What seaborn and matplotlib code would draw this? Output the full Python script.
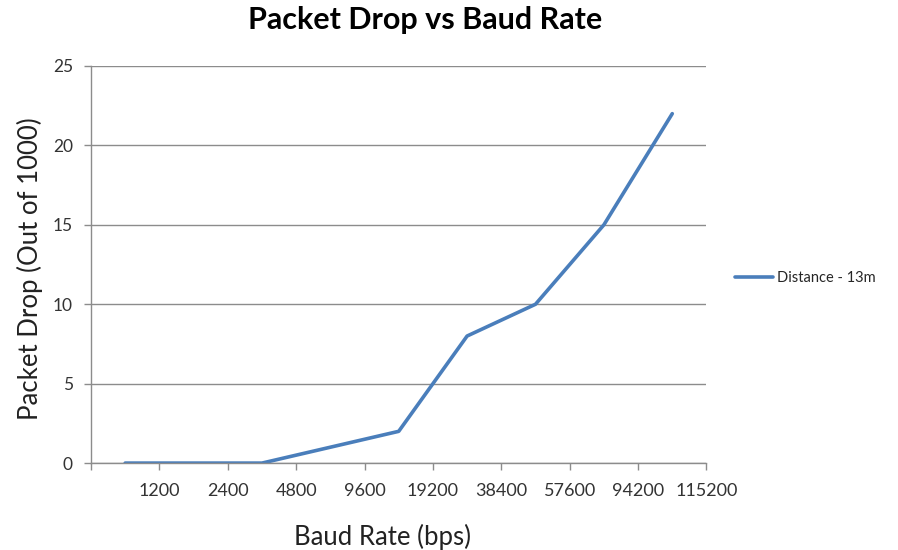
import numpy as np
import pandas as pd
import matplotlib
matplotlib.use("Agg")
import matplotlib.pyplot as plt
import seaborn as sns

# Baud rates tested and packets dropped out of 1000 at 13 m
baud_labels = ["1200", "2400", "4800", "9600", "19200", "38400", "57600", "94200", "115200"]
packet_drop = [0, 0, 0, 1, 2, 8, 10, 15, 22]
series_name = "Distance - 13m"
y_ticks = [0, 5, 10, 15, 20, 25]

sns.set_theme(style="white")
plt.rcParams["font.family"] = ["Lato", "DejaVu Sans"]

df = pd.DataFrame({"pos": np.arange(len(packet_drop)), "drop": packet_drop, "series": series_name})

fig = plt.figure(figsize=(8.98, 5.5), dpi=100)
ax = fig.add_axes([0.1013, 0.158, 0.6854, 0.722])

sns.lineplot(data=df, x="pos", y="drop", hue="series", palette=["#4a7ebb"],
             linewidth=2.6, ax=ax, legend=False)

# Category axis: ticks on category boundaries, labels at the right-hand boundary
n = len(baud_labels)
ax.set_xlim(-0.5, n - 0.5)
bounds = np.arange(-0.5, n, 1.0)
ax.set_xticks(bounds)
ax.set_xticklabels([""] + baud_labels)
ax.set_ylim(0, 25)
ax.set_yticks(y_ticks)

ax.yaxis.grid(True, color="#8c8c8c", linewidth=1.0)
ax.xaxis.grid(False)
for side in ("top", "right"):
    ax.spines[side].set_visible(False)
for side in ("left", "bottom"):
    ax.spines[side].set_color("#8c8c8c")
    ax.spines[side].set_linewidth(1.0)

ax.tick_params(axis="x", bottom=True, direction="out", length=5, width=1,
               color="#8c8c8c", labelsize=13, labelcolor="#333333", pad=9)
ax.tick_params(axis="y", left=True, direction="out", length=5, width=1,
               color="#8c8c8c", labelsize=12.5, labelcolor="#333333", pad=8)

ax.set_xlabel("Baud Rate (bps)", fontsize=18.5, color="#222222")
ax.xaxis.set_label_coords(0.474, -0.152)
ax.set_ylabel("Packet Drop (Out of 1000)", fontsize=18.5, color="#222222")
ax.yaxis.set_label_coords(-0.078, 0.49)

fig.suptitle("Packet Drop vs Baud Rate", x=0.473, y=0.99, fontsize=22,
             fontweight="bold", color="#000000")

handle = plt.Line2D([], [], color="#4a7ebb", linewidth=2.6)
fig.legend([handle], [series_name], loc="center left", bbox_to_anchor=(0.804, 0.495),
           frameon=False, fontsize=10.5, handlelength=2.6, handletextpad=0.3)

fig.savefig("out.png", dpi=100, facecolor="white")
